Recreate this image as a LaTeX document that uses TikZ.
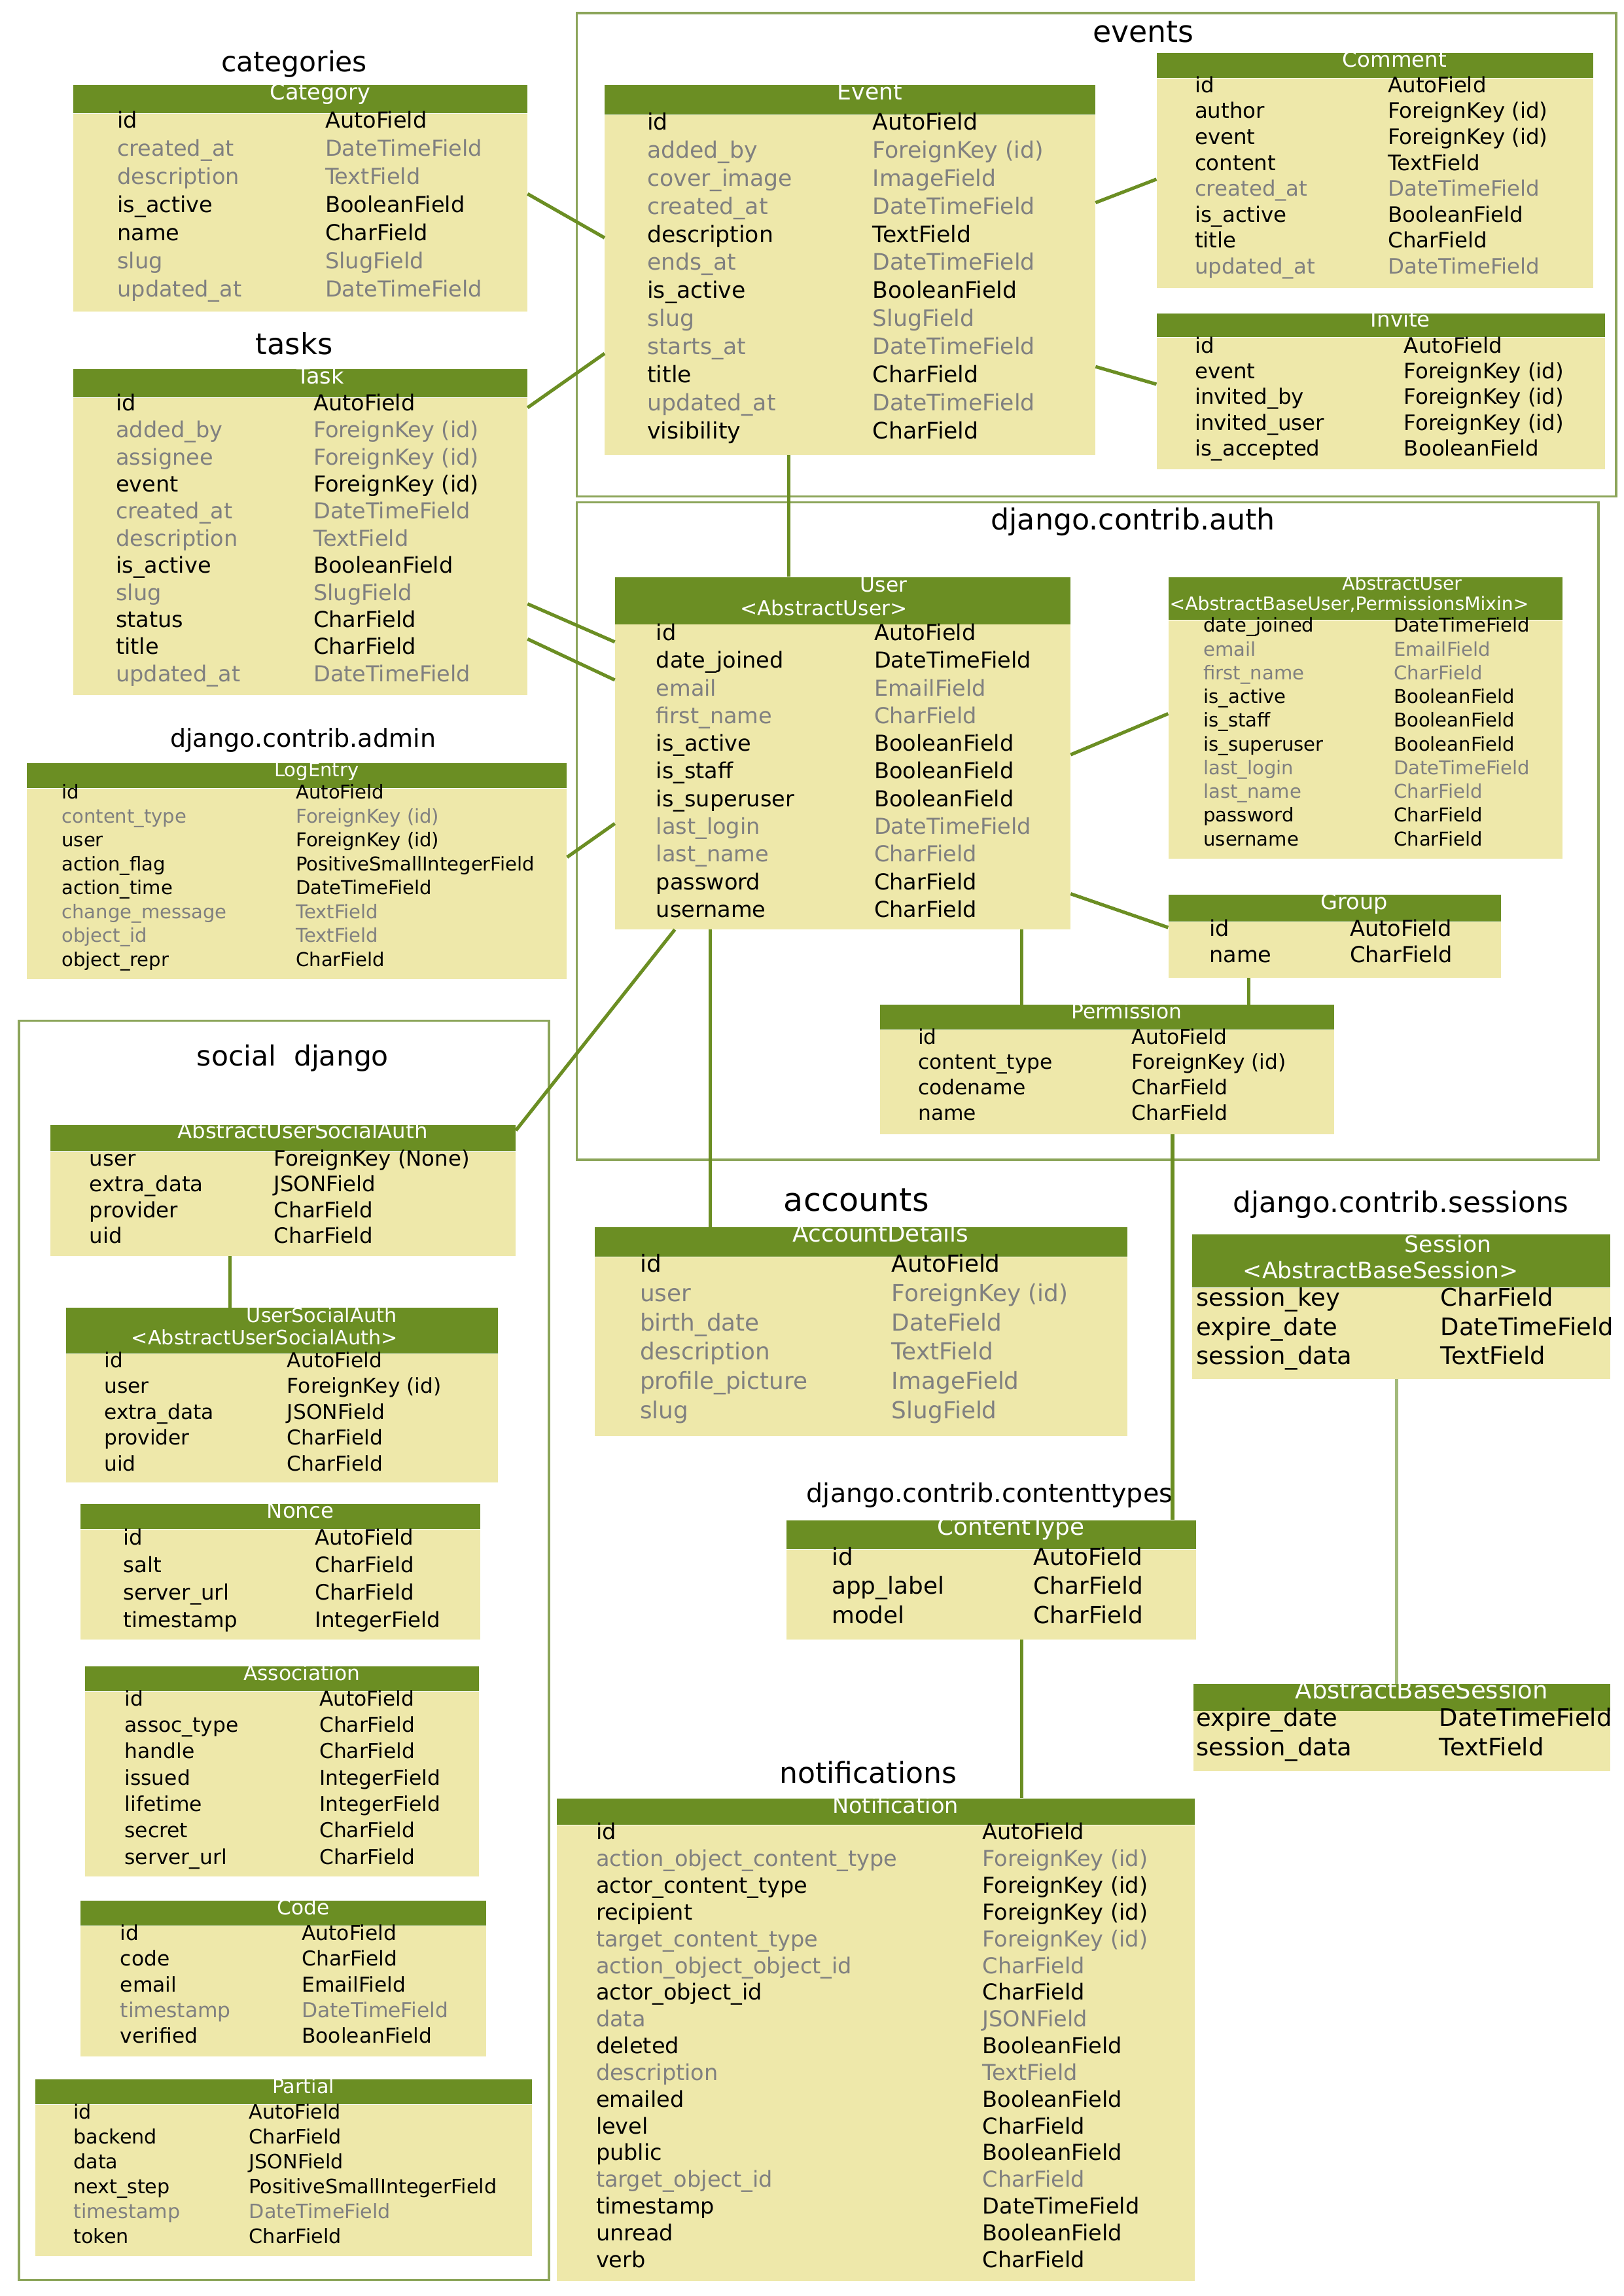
\documentclass[tikz,border=0pt]{standalone}
\usepackage{fontspec}
\setmainfont{DejaVu Sans}
\usepackage{array}
\usepackage{xcolor}
\definecolor{hdrgreen}{HTML}{6B8E23}
\definecolor{bodyyellow}{HTML}{EEE8AA}
\definecolor{optgray}{HTML}{808080}
\definecolor{clusterline}{HTML}{8CA55A}
\definecolor{paleedge}{HTML}{A3BA7C}
\newcommand{\tsize}[2]{\fontsize{#1}{#2}\selectfont}
\newcommand{\opt}[2]{\textcolor{optgray}{#1} & \textcolor{optgray}{#2}}
\newcommand{\hdrname}[1]{\hspace*{27pt}#1}

\begin{document}
\begin{tikzpicture}[
  x=1pt, y=-1pt,
  hdr/.style={fill=hdrgreen, text=white, inner sep=0pt, anchor=north west, text height=9.5pt},
  body/.style={fill=bodyyellow, inner sep=0pt, anchor=north west},
  fields/.style={inner sep=0pt, anchor=base west},
  pkg/.style={inner sep=0pt, anchor=base},
  cluster/.style={draw=clusterline, line width=1.6pt},
  link/.style={draw=hdrgreen, line width=2.3pt}
]
  \path[fill=white, use as bounding box] (0,0) rectangle (1109,1568);

  % --- CLUSTER FRAMES ---
  \draw[cluster] (394,9) rectangle (1104,339);
  \draw[cluster] (394,343) rectangle (1092,792);
  \draw[cluster] (13,697) rectangle (375,1557);

  % --- PACKAGE LABELS ---
  \node[pkg, font=\tsize{20.5}{24}] (lbl-events) at (781,29) {events};
  \node[pkg, font=\tsize{19}{22}] (lbl-categories) at (201,49) {categories};
  \node[pkg, font=\tsize{20}{24}] (lbl-tasks) at (201,242) {tasks};
  \node[pkg, font=\tsize{17}{20}] (lbl-admin) at (207,510) {django.contrib.admin};
  \node[pkg, font=\tsize{19}{22}] (lbl-social) at (200,728) {social\ \ django};
  \node[pkg, font=\tsize{19.8}{23}] (lbl-auth) at (774,362) {django.contrib.auth};
  \node[pkg, font=\tsize{22}{26}] (lbl-accounts) at (585,827) {accounts};
  \node[pkg, font=\tsize{19.5}{23}] (lbl-sessions) at (957,828) {django.contrib.sessions};
  \node[pkg, font=\tsize{17.7}{21}] (lbl-contenttypes) at (676,1026) {django.contrib.contenttypes};
  \node[pkg, font=\tsize{19.7}{23}] (lbl-notifications) at (593,1218) {notifications};

  % --- events ---
  \node[hdr, minimum width=335pt, minimum height=20pt, text height=10pt, text depth=10pt, font=\tsize{15.5}{18}] (eventh) at (413,58) {\hdrname{Event}};
  \node[body, minimum width=335pt, minimum height=232pt] (event) at (eventh.south west) {};
  \node[fields, font=\tsize{15.5}{19.2}] (eventf) at (442,88.6) {\begin{tabular}[t]{@{}p{154pt}@{}l@{}}
    id & AutoField\\
    \opt{added\_by}{ForeignKey (id)}\\
    \opt{cover\_image}{ImageField}\\
    \opt{created\_at}{DateTimeField}\\
    description & TextField\\
    \opt{ends\_at}{DateTimeField}\\
    is\_active & BooleanField\\
    \opt{slug}{SlugField}\\
    \opt{starts\_at}{DateTimeField}\\
    title & CharField\\
    \opt{updated\_at}{DateTimeField}\\
    visibility & CharField
  \end{tabular}};

  \node[hdr, minimum width=298pt, minimum height=17pt, text depth=7.5pt, font=\tsize{14.5}{17}] (commenth) at (790,36) {\hdrname{Comment}};
  \node[body, minimum width=298pt, minimum height=143pt] (comment) at (commenth.south west) {};
  \node[fields, font=\tsize{14.5}{17.7}] (commentf) at (816,63.2) {\begin{tabular}[t]{@{}p{132pt}@{}l@{}}
    id & AutoField\\
    author & ForeignKey (id)\\
    event & ForeignKey (id)\\
    content & TextField\\
    \opt{created\_at}{DateTimeField}\\
    is\_active & BooleanField\\
    title & CharField\\
    \opt{updated\_at}{DateTimeField}
  \end{tabular}};

  \node[hdr, minimum width=306pt, minimum height=16pt, text height=9pt, text depth=7pt, font=\tsize{14.5}{17}] (inviteh) at (790,214) {\hdrname{Invite}};
  \node[body, minimum width=306pt, minimum height=90pt] (invite) at (inviteh.south west) {};
  \node[fields, font=\tsize{14.5}{17.5}] (invitef) at (816,241.2) {\begin{tabular}[t]{@{}p{143pt}@{}l@{}}
    id & AutoField\\
    event & ForeignKey (id)\\
    invited\_by & ForeignKey (id)\\
    invited\_user & ForeignKey (id)\\
    is\_accepted & BooleanField
  \end{tabular}};

  % --- categories ---
  \node[hdr, minimum width=310pt, minimum height=19pt, text height=10pt, text depth=9pt, font=\tsize{15}{18}] (categoryh) at (50,58) {\hdrname{Category}};
  \node[body, minimum width=310pt, minimum height=135pt] (category) at (categoryh.south west) {};
  \node[fields, font=\tsize{15}{19.2}] (categoryf) at (80,87.4) {\begin{tabular}[t]{@{}p{142pt}@{}l@{}}
    id & AutoField\\
    \opt{created\_at}{DateTimeField}\\
    \opt{description}{TextField}\\
    is\_active & BooleanField\\
    name & CharField\\
    \opt{slug}{SlugField}\\
    \opt{updated\_at}{DateTimeField}
  \end{tabular}};

  % --- tasks ---
  \node[hdr, minimum width=310pt, minimum height=19pt, text height=10pt, text depth=9pt, font=\tsize{15}{18}] (taskh) at (50,252) {\hdrname{Task}};
  \node[body, minimum width=310pt, minimum height=203pt] (task) at (taskh.south west) {};
  \node[fields, font=\tsize{15}{18.5}] (taskf) at (79,280.4) {\begin{tabular}[t]{@{}p{135pt}@{}l@{}}
    id & AutoField\\
    \opt{added\_by}{ForeignKey (id)}\\
    \opt{assignee}{ForeignKey (id)}\\
    event & ForeignKey (id)\\
    \opt{created\_at}{DateTimeField}\\
    \opt{description}{TextField}\\
    is\_active & BooleanField\\
    \opt{slug}{SlugField}\\
    status & CharField\\
    title & CharField\\
    \opt{updated\_at}{DateTimeField}
  \end{tabular}};

  % --- django.contrib.admin ---
  \node[hdr, minimum width=369pt, minimum height=17pt, text height=9pt, text depth=8pt, font=\tsize{13}{16}] (logentryh) at (18,521) {\hdrname{LogEntry}};
  \node[body, minimum width=369pt, minimum height=130pt] (logentry) at (logentryh.south west) {};
  \node[fields, font=\tsize{13}{16.3}] (logentryf) at (42,545.7) {\begin{tabular}[t]{@{}p{160pt}@{}l@{}}
    id & AutoField\\
    \opt{content\_type}{ForeignKey (id)}\\
    user & ForeignKey (id)\\
    action\_flag & PositiveSmallIntegerField\\
    action\_time & DateTimeField\\
    \opt{change\_message}{TextField}\\
    \opt{object\_id}{TextField}\\
    object\_repr & CharField
  \end{tabular}};

  % --- social django ---
  \node[hdr, minimum width=318pt, minimum height=18pt, text depth=8.5pt, font=\tsize{14.5}{17}] (ausah) at (34,768) {\hdrname{AbstractUserSocialAuth}};
  \node[body, minimum width=318pt, minimum height=71pt] (ausa) at (ausah.south west) {};
  \node[fields, font=\tsize{14.5}{17.6}] (ausaf) at (61,796.2) {\begin{tabular}[t]{@{}p{126pt}@{}l@{}}
    user & ForeignKey (None)\\
    extra\_data & JSONField\\
    provider & CharField\\
    uid & CharField
  \end{tabular}};

  \node[hdr, minimum width=295pt, minimum height=31pt, text height=9.9pt, text depth=21.1pt, font=\tsize{13.5}{15}] (usah) at (45,893) {\begin{tabular}[t]{@{}c@{}}\hspace*{54pt}UserSocialAuth\\<AbstractUserSocialAuth>\hspace*{24pt}\end{tabular}};
  \node[body, minimum width=295pt, minimum height=88pt] (usa) at (usah.south west) {};
  \node[fields, font=\tsize{14}{17.6}] (usaf) at (71,934) {\begin{tabular}[t]{@{}p{125pt}@{}l@{}}
    id & AutoField\\
    user & ForeignKey (id)\\
    extra\_data & JSONField\\
    provider & CharField\\
    uid & CharField
  \end{tabular}};

  \node[hdr, minimum width=273pt, minimum height=17pt, text depth=7.5pt, font=\tsize{14.5}{17}] (nonceh) at (55,1027) {\hdrname{Nonce}};
  \node[body, minimum width=273pt, minimum height=75pt] (nonce) at (nonceh.south west) {};
  \node[fields, font=\tsize{14.5}{18.7}] (noncef) at (84,1055.2) {\begin{tabular}[t]{@{}p{131pt}@{}l@{}}
    id & AutoField\\
    salt & CharField\\
    server\_url & CharField\\
    timestamp & IntegerField
  \end{tabular}};

  \node[hdr, minimum width=269pt, minimum height=17pt, text depth=7.5pt, font=\tsize{14}{17}] (assoch) at (58,1138) {\hdrname{Association}};
  \node[body, minimum width=269pt, minimum height=126pt] (assoc) at (assoch.south west) {};
  \node[fields, font=\tsize{14}{18}] (assocf) at (85,1165) {\begin{tabular}[t]{@{}p{133pt}@{}l@{}}
    id & AutoField\\
    assoc\_type & CharField\\
    handle & CharField\\
    issued & IntegerField\\
    lifetime & IntegerField\\
    secret & CharField\\
    server\_url & CharField
  \end{tabular}};

  \node[hdr, minimum width=277pt, minimum height=17pt, text depth=7.5pt, font=\tsize{14}{17}] (codeh) at (55,1298) {\hdrname{Code}};
  \node[body, minimum width=277pt, minimum height=89pt] (code) at (codeh.south west) {};
  \node[fields, font=\tsize{14}{17.6}] (codef) at (82,1325) {\begin{tabular}[t]{@{}p{124pt}@{}l@{}}
    id & AutoField\\
    code & CharField\\
    email & EmailField\\
    \opt{timestamp}{DateTimeField}\\
    verified & BooleanField
  \end{tabular}};

  \node[hdr, minimum width=339pt, minimum height=17pt, text depth=7.5pt, font=\tsize{13.5}{16}] (partialh) at (24,1420) {\hdrname{Partial}};
  \node[body, minimum width=339pt, minimum height=103pt] (partial) at (partialh.south west) {};
  \node[fields, font=\tsize{13.5}{17}] (partialf) at (50,1446.9) {\begin{tabular}[t]{@{}p{120pt}@{}l@{}}
    id & AutoField\\
    backend & CharField\\
    data & JSONField\\
    next\_step & PositiveSmallIntegerField\\
    \opt{timestamp}{DateTimeField}\\
    token & CharField
  \end{tabular}};

  % --- django.contrib.auth ---
  \node[hdr, minimum width=311pt, minimum height=32pt, text height=10pt, text depth=22pt, font=\tsize{14}{16}] (userh) at (420,394) {\begin{tabular}[t]{@{}c@{}}\hspace*{56pt}User\\<AbstractUser>\hspace*{26pt}\end{tabular}};
  \node[body, minimum width=311pt, minimum height=208pt] (user) at (userh.south west) {};
  \node[fields, font=\tsize{15}{18.9}] (userf) at (448,437.4) {\begin{tabular}[t]{@{}p{149pt}@{}l@{}}
    id & AutoField\\
    date\_joined & DateTimeField\\
    \opt{email}{EmailField}\\
    \opt{first\_name}{CharField}\\
    is\_active & BooleanField\\
    is\_staff & BooleanField\\
    is\_superuser & BooleanField\\
    \opt{last\_login}{DateTimeField}\\
    \opt{last\_name}{CharField}\\
    password & CharField\\
    username & CharField
  \end{tabular}};

  \node[hdr, minimum width=269pt, minimum height=29pt, text height=8.7pt, text depth=20.3pt, font=\tsize{12.6}{14}] (abstractuserh) at (798,394) {\begin{tabular}[t]{@{}c@{}}\hspace*{50pt}AbstractUser\\<AbstractBaseUser,PermissionsMixin>\hspace*{22pt}\end{tabular}};
  \node[body, minimum width=269pt, minimum height=163pt] (abstractuser) at (abstractuserh.south west) {};
  \node[fields, font=\tsize{13}{16.2}] (abstractuserf) at (822,431.7) {\begin{tabular}[t]{@{}p{130pt}@{}l@{}}
    date\_joined & DateTimeField\\
    \opt{email}{EmailField}\\
    \opt{first\_name}{CharField}\\
    is\_active & BooleanField\\
    is\_staff & BooleanField\\
    is\_superuser & BooleanField\\
    \opt{last\_login}{DateTimeField}\\
    \opt{last\_name}{CharField}\\
    password & CharField\\
    username & CharField
  \end{tabular}};

  \node[hdr, minimum width=227pt, minimum height=18pt, text height=10pt, text depth=8pt, font=\tsize{15}{18}] (grouph) at (798,611) {\hdrname{Group}};
  \node[body, minimum width=227pt, minimum height=38pt] (group) at (grouph.south west) {};
  \node[fields, font=\tsize{15}{18}] (groupf) at (826,639.4) {\begin{tabular}[t]{@{}p{96pt}@{}l@{}}
    id & AutoField\\
    name & CharField
  \end{tabular}};

  \node[hdr, minimum width=310pt, minimum height=17pt, text depth=7.5pt, font=\tsize{14}{17}] (permh) at (601,686) {\hdrname{Permission}};
  \node[body, minimum width=310pt, minimum height=71pt] (perm) at (permh.south west) {};
  \node[fields, font=\tsize{14}{17.3}] (permf) at (627,713) {\begin{tabular}[t]{@{}p{146pt}@{}l@{}}
    id & AutoField\\
    content\_type & ForeignKey (id)\\
    codename & CharField\\
    name & CharField
  \end{tabular}};

  % --- accounts ---
  \node[hdr, minimum width=364pt, minimum height=20pt, text height=10pt, text depth=10pt, font=\tsize{16}{19}] (accounth) at (406,838) {\hdrname{AccountDetails}};
  \node[body, minimum width=364pt, minimum height=122pt] (account) at (accounth.south west) {};
  \node[fields, font=\tsize{16}{20}] (accountf) at (437,868.8) {\begin{tabular}[t]{@{}p{172pt}@{}l@{}}
    id & AutoField\\
    \opt{user}{ForeignKey (id)}\\
    \opt{birth\_date}{DateField}\\
    \opt{description}{TextField}\\
    \opt{profile\_picture}{ImageField}\\
    \opt{slug}{SlugField}
  \end{tabular}};

  % --- django.contrib.sessions ---
  \node[hdr, minimum width=286pt, minimum height=36pt, text height=11.9pt, text depth=24.1pt, font=\tsize{15.5}{18}] (sessionh) at (814,843) {\begin{tabular}[t]{@{}c@{}}\hspace*{64pt}Session\\<AbstractBaseSession>\hspace*{28pt}\end{tabular}};
  \node[body, minimum width=286pt, minimum height=62pt] (session) at (sessionh.south west) {};
  \node[fields, font=\tsize{16.5}{20}] (sessionf) at (817,891.9) {\begin{tabular}[t]{@{}p{167pt}@{}l@{}}
    session\_key & CharField\\
    expire\_date & DateTimeField\\
    session\_data & TextField
  \end{tabular}};

  \node[hdr, minimum width=285pt, minimum height=18pt, text height=10pt, text depth=8pt, font=\tsize{16.5}{19}] (abssessionh) at (815,1150) {\hdrname{AbstractBaseSession}};
  \node[body, minimum width=285pt, minimum height=41pt] (abssession) at (abssessionh.south west) {};
  \node[fields, font=\tsize{16.5}{20}] (abssessionf) at (817,1178.9) {\begin{tabular}[t]{@{}p{166pt}@{}l@{}}
    expire\_date & DateTimeField\\
    session\_data & TextField
  \end{tabular}};

  % --- django.contrib.contenttypes ---
  \node[hdr, minimum width=280pt, minimum height=20pt, text height=10pt, text depth=10pt, font=\tsize{16}{19}] (cth) at (537,1038) {\hdrname{ContentType}};
  \node[body, minimum width=280pt, minimum height=61pt] (ct) at (cth.south west) {};
  \node[fields, font=\tsize{16}{20}] (ctf) at (568,1068.8) {\begin{tabular}[t]{@{}p{138pt}@{}l@{}}
    id & AutoField\\
    app\_label & CharField\\
    model & CharField
  \end{tabular}};

  % --- notifications ---
  \node[hdr, minimum width=436pt, minimum height=18pt, text height=10pt, text depth=8pt, font=\tsize{15}{18}] (noth) at (380,1228) {\hdrname{Notification}};
  \node[body, minimum width=436pt, minimum height=311pt] (notif) at (noth.south west) {};
  \node[fields, font=\tsize{15}{18.25}] (notiff) at (407,1256.4) {\begin{tabular}[t]{@{}p{264pt}@{}l@{}}
    id & AutoField\\
    \opt{action\_object\_content\_type}{ForeignKey (id)}\\
    actor\_content\_type & ForeignKey (id)\\
    recipient & ForeignKey (id)\\
    \opt{target\_content\_type}{ForeignKey (id)}\\
    \opt{action\_object\_object\_id}{CharField}\\
    actor\_object\_id & CharField\\
    \opt{data}{JSONField}\\
    deleted & BooleanField\\
    \opt{description}{TextField}\\
    emailed & BooleanField\\
    level & CharField\\
    public & BooleanField\\
    \opt{target\_object\_id}{CharField}\\
    timestamp & DateTimeField\\
    unread & BooleanField\\
    verb & CharField
  \end{tabular}};

  % --- Relations ---
  \draw[link] ([yshift=-55pt]category.north east) -- ([yshift=-84pt]event.north west);
  \draw[link] ([yshift=-7pt]task.north east) -- ([yshift=-163pt]event.north west);
  \draw[link] ([xshift=126pt]event.south west) -- ([xshift=119pt]userh.north west);
  \draw[link] ([yshift=-60pt]event.north east) -- ([yshift=-69pt]comment.north west);
  \draw[link] ([yshift=-172pt]event.north east) -- ([yshift=-32pt]invite.north west);
  \draw[link] ([yshift=-141pt]task.north east) -- ([yshift=-12pt]user.north west);
  \draw[link] ([yshift=-165pt]task.north east) -- ([yshift=-38pt]user.north west);
  \draw[link] ([yshift=-47pt]logentry.north east) -- ([yshift=-136pt]user.north west);
  \draw[link] ([xshift=41pt]user.south west) -- ([yshift=-4pt]ausah.north east);
  \draw[link] ([xshift=65pt]user.south west) -- ([xshift=79pt]accounth.north west);
  \draw[link] ([yshift=-89pt]user.north east) -- ([yshift=-64pt]abstractuser.north west);
  \draw[link] ([yshift=-184pt]user.north east) -- ([yshift=-4pt]group.north west);
  \draw[link] ([xshift=278pt]user.south west) -- ([xshift=97pt]permh.north west);
  \draw[link] ([xshift=55pt]group.south west) -- ([xshift=252pt]permh.north west);
  \draw[link] ([xshift=200pt]perm.south west) -- ([xshift=264pt]cth.north west);
  \draw[link] ([xshift=161pt]ct.south west) -- ([xshift=318pt]noth.north west);
  \draw[link] ([xshift=123pt]ausa.south west) -- ([xshift=112pt]usah.north west);
  \draw[link, draw=paleedge] ([xshift=140pt]session.south west) -- ([xshift=139pt]abssessionh.north west);

\end{tikzpicture}
\end{document}
